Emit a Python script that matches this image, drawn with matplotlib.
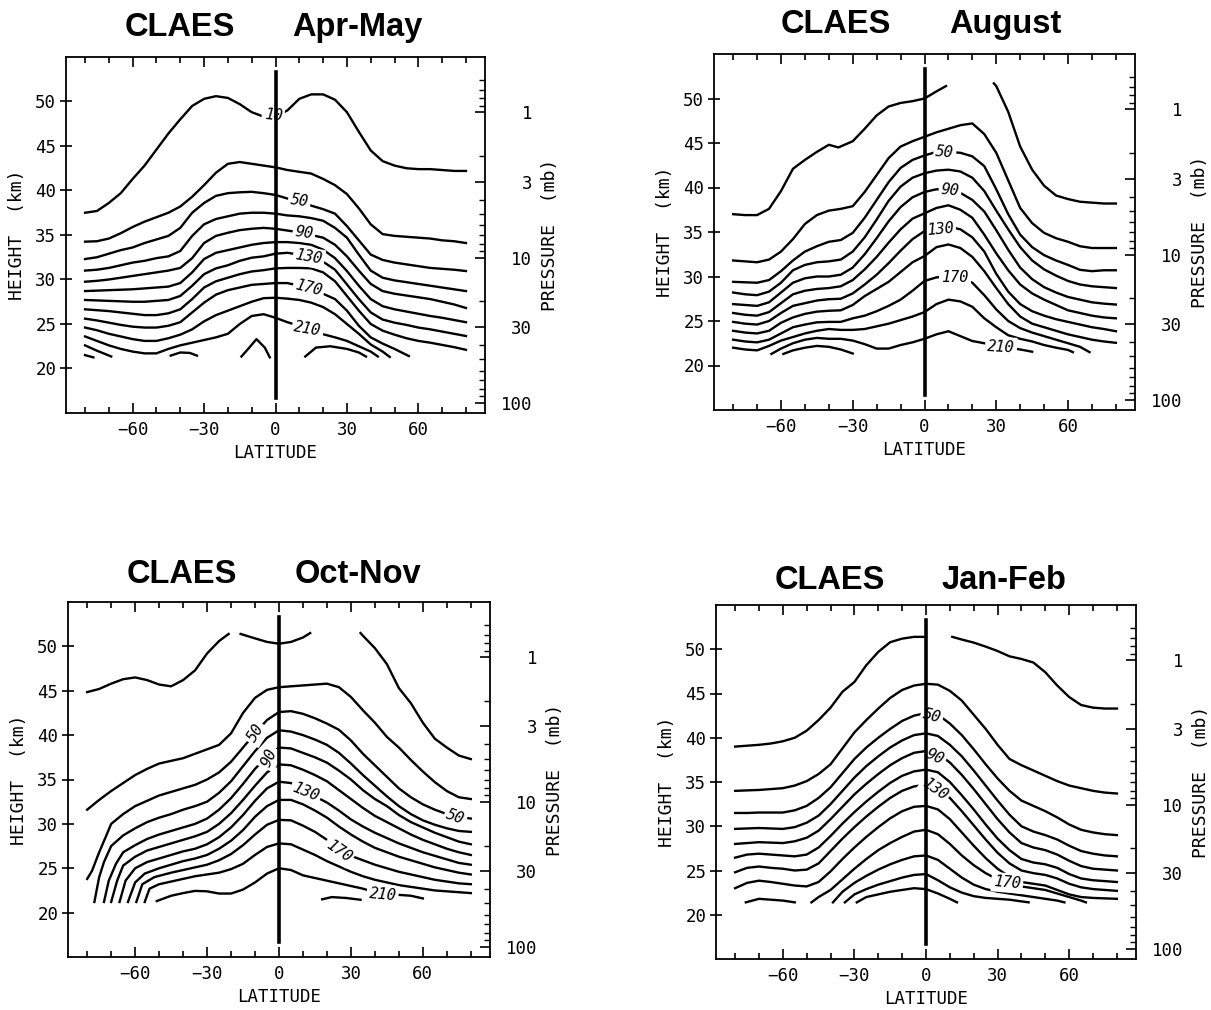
import numpy as np
import matplotlib
matplotlib.use("Agg")
import matplotlib.pyplot as plt

plt.rcParams['font.family'] = ['DejaVu Sans Mono']

# CLAES N2O cross sections (ppbv), contour heights
# each level -> list of segments, each segment a list of (latitude, height km)

apr_may = {
    10: [[(-80, 37.5), (-75, 37.7), (-70, 38.6), (-65, 39.7), (-60, 41.3), (-55, 42.8), (-50, 44.6),
          (-45, 46.4), (-40, 48.0), (-35, 49.5), (-30, 50.3), (-25, 50.6), (-20, 50.4), (-15, 49.7),
          (-10, 48.8), (-5, 48.3), (0, 48.3), (5, 49.0), (10, 50.3), (15, 50.8), (20, 50.8), (25, 50.2),
          (30, 48.8), (35, 46.6), (40, 44.5), (45, 43.3), (50, 42.8), (55, 42.5), (60, 42.4), (65, 42.4),
          (70, 42.3), (75, 42.2), (80, 42.2)]],
    30: [[(-80, 34.25), (-75, 34.3), (-70, 34.6), (-65, 35.2), (-60, 35.9), (-55, 36.5), (-50, 37.0),
          (-45, 37.5), (-40, 38.2), (-35, 39.3), (-30, 40.6), (-25, 42.0), (-20, 43.0), (-15, 43.2),
          (-10, 43.0), (-5, 42.8), (0, 42.6), (5, 42.3), (10, 42.1), (15, 41.9), (20, 41.3), (25, 40.6),
          (30, 39.6), (35, 38.0), (40, 36.2), (45, 35.1), (50, 34.9), (55, 34.8), (60, 34.7), (65, 34.6),
          (70, 34.4), (75, 34.3), (80, 34.1)]],
    50: [[(-80, 32.3), (-75, 32.5), (-70, 32.9), (-65, 33.3), (-60, 33.6), (-55, 34.1), (-50, 34.5),
          (-45, 34.9), (-40, 35.8), (-35, 37.5), (-30, 38.6), (-25, 39.4), (-20, 39.7), (-15, 39.8),
          (-10, 39.85), (-5, 39.7), (0, 39.5), (5, 39.1), (10, 38.8), (15, 38.3), (20, 37.9), (25, 37.4),
          (30, 36.0), (35, 34.4), (40, 32.8), (45, 32.2), (50, 31.9), (55, 31.7), (60, 31.5), (65, 31.3),
          (70, 31.2), (75, 31.1), (80, 30.95)]],
    70: [[(-80, 31.0), (-75, 31.1), (-70, 31.3), (-65, 31.6), (-60, 31.9), (-55, 32.1), (-50, 32.4),
          (-45, 32.6), (-40, 33.2), (-35, 34.9), (-30, 36.2), (-25, 36.8), (-20, 37.1), (-15, 37.4),
          (-10, 37.5), (-5, 37.5), (0, 37.4), (5, 37.2), (10, 37.1), (15, 36.9), (20, 36.6), (25, 35.8),
          (30, 34.7), (35, 32.8), (40, 31.0), (45, 30.2), (50, 29.9), (55, 29.7), (60, 29.5), (65, 29.3),
          (70, 29.1), (75, 28.9), (80, 28.7)]],
    90: [[(-80, 29.75), (-75, 29.85), (-70, 30.0), (-65, 30.2), (-60, 30.4), (-55, 30.6), (-50, 30.8),
          (-45, 31.0), (-40, 31.3), (-35, 32.4), (-30, 34.1), (-25, 34.9), (-20, 35.25), (-15, 35.55),
          (-10, 35.7), (-5, 35.8), (0, 35.7), (5, 35.5), (10, 35.3), (15, 35.0), (20, 34.7), (25, 33.9),
          (30, 32.6), (35, 31.0), (40, 29.5), (45, 28.7), (50, 28.4), (55, 28.2), (60, 28.0), (65, 27.8),
          (70, 27.5), (75, 27.2), (80, 26.8)]],
    110: [[(-80, 28.7), (-75, 28.75), (-70, 28.8), (-65, 28.85), (-60, 28.9), (-55, 29.0), (-50, 29.1),
           (-45, 29.2), (-40, 29.6), (-35, 30.8), (-30, 32.3), (-25, 33.0), (-20, 33.3), (-15, 33.6),
           (-10, 33.9), (-5, 34.1), (0, 34.2), (5, 34.2), (10, 34.1), (15, 33.9), (20, 33.35), (25, 32.4),
           (30, 30.95), (35, 29.3), (40, 27.8), (45, 27.0), (50, 26.65), (55, 26.4), (60, 26.15),
           (65, 25.9), (70, 25.7), (75, 25.45), (80, 25.2)]],
    130: [[(-80, 27.7), (-75, 27.65), (-70, 27.6), (-65, 27.55), (-60, 27.5), (-55, 27.5), (-50, 27.6),
           (-45, 27.7), (-40, 28.15), (-35, 29.3), (-30, 30.6), (-25, 31.25), (-20, 31.6), (-15, 32.1),
           (-10, 32.45), (-5, 32.6), (0, 32.9), (5, 33.0), (10, 32.8), (15, 32.4), (20, 32.0), (25, 31.1),
           (30, 29.45), (35, 27.8), (40, 26.3), (45, 25.5), (50, 25.15), (55, 24.9), (60, 24.6),
           (65, 24.4), (70, 24.15), (75, 23.9), (80, 23.65)]],
    150: [[(-80, 26.65), (-75, 26.55), (-70, 26.45), (-65, 26.3), (-60, 26.15), (-55, 26.0), (-50, 26.0),
           (-45, 26.2), (-40, 26.65), (-35, 27.8), (-30, 29.1), (-25, 29.8), (-20, 30.2), (-15, 30.6),
           (-10, 30.9), (-5, 31.05), (0, 31.25), (5, 31.3), (10, 31.3), (15, 31.25), (20, 30.8), (25, 29.8),
           (30, 28.15), (35, 26.5), (40, 25.0), (45, 24.25), (50, 23.8), (55, 23.4), (60, 23.1),
           (65, 22.9), (70, 22.65), (75, 22.4), (80, 22.1)]],
    170: [[(-80, 25.6), (-75, 25.4), (-70, 25.15), (-65, 24.9), (-60, 24.7), (-55, 24.6), (-50, 24.6),
           (-45, 24.8), (-40, 25.2), (-35, 26.3), (-30, 27.4), (-25, 28.3), (-20, 28.8), (-15, 29.1),
           (-10, 29.4), (-5, 29.5), (0, 29.6), (5, 29.6), (10, 29.3), (15, 28.9), (20, 28.4), (25, 27.8),
           (30, 26.5), (35, 24.8), (40, 23.5), (45, 22.8), (50, 22.2), (56, 21.4)]],
    190: [[(-80, 24.6), (-75, 24.3), (-70, 23.9), (-65, 23.6), (-60, 23.3), (-55, 23.1), (-50, 23.1),
           (-45, 23.4), (-40, 23.8), (-35, 24.4), (-30, 25.3), (-25, 26.0), (-20, 26.5), (-15, 27.0),
           (-10, 27.5), (-5, 27.9), (0, 27.95), (5, 27.85), (10, 27.7), (15, 27.4), (20, 26.9), (25, 26.1),
           (30, 25.0), (35, 23.9), (40, 22.7), (45, 21.9), (48, 21.3)]],
    210: [[(-80, 23.6), (-75, 23.1), (-70, 22.6), (-65, 22.2), (-60, 21.9), (-55, 21.7), (-50, 21.7),
           (-45, 22.2), (-40, 22.6), (-35, 22.9), (-30, 23.2), (-25, 23.5), (-20, 23.9), (-15, 25.0),
           (-10, 25.9), (-5, 26.1), (0, 25.7), (5, 25.2), (10, 24.8), (15, 24.3), (20, 23.85), (25, 23.5),
           (30, 23.1), (35, 22.5), (40, 21.9), (43, 21.35)]],
    230: [[(-80, 22.6), (-75, 22.0), (-69, 21.35)],
          [(-44, 21.45), (-40, 21.8), (-36, 21.75), (-33, 21.45)],
          [(-14.3, 21.35), (-11, 22.35), (-8, 23.3), (-4.5, 22.35), (-2.4, 21.25)],
          [(12.5, 21.35), (17, 22.35), (23, 22.5), (30, 22.2), (35, 21.8), (38, 21.35)]],
    250: [[(-80, 21.5), (-76.5, 21.25)]],
}
apr_may_labels = [(10, -1, 48.4, -5), (50, 10, 38.8, -8), (90, 12, 35.3, -8),
                  (130, 14, 32.5, -10), (170, 14, 29.1, -14), (210, 13.5, 24.4, -10)]

august = {
    10: [[(-80, 37.0), (-75, 36.9), (-70, 36.9), (-65, 37.6), (-60, 39.6), (-55, 42.1), (-50, 43.1),
          (-45, 44.0), (-40, 44.8), (-36, 44.5), (-30, 45.2), (-25, 46.6), (-20, 48.1), (-15, 49.1),
          (-10, 49.5), (-5, 49.7), (0, 50.0), (5, 50.8), (9, 51.4)],
         [(29, 51.7), (30, 51.4), (35, 48.5), (40, 44.6), (45, 42.0), (50, 40.2), (55, 39.1),
          (60, 38.7), (65, 38.4), (70, 38.3), (75, 38.2), (80, 38.2)]],
    30: [[(-80, 31.8), (-75, 31.7), (-70, 31.6), (-65, 31.9), (-60, 32.8), (-55, 34.2), (-50, 35.9),
          (-45, 36.9), (-40, 37.4), (-35, 37.6), (-30, 37.9), (-25, 39.5), (-20, 41.4), (-15, 43.3),
          (-10, 44.6), (-5, 45.2), (0, 45.7), (5, 46.2), (10, 46.6), (15, 47.0), (20, 47.2), (25, 46.0),
          (30, 43.9), (35, 40.8), (40, 37.7), (45, 36.0), (50, 34.9), (55, 34.3), (60, 33.9), (65, 33.4),
          (70, 33.2), (75, 33.2), (80, 33.2)]],
    50: [[(-80, 29.4), (-75, 29.35), (-70, 29.3), (-65, 29.6), (-60, 30.6), (-55, 31.8), (-50, 32.8),
          (-45, 33.4), (-40, 33.9), (-35, 34.1), (-30, 34.9), (-25, 36.6), (-20, 38.6), (-15, 40.6),
          (-10, 42.2), (-5, 43.1), (0, 43.6), (5, 44.0), (10, 44.0), (15, 43.9), (20, 43.5), (25, 42.4),
          (30, 39.8), (35, 37.0), (40, 34.7), (45, 33.3), (50, 32.4), (55, 31.8), (60, 31.3), (65, 30.75),
          (70, 30.6), (75, 30.7), (80, 30.7)]],
    70: [[(-80, 28.2), (-75, 28.0), (-70, 27.9), (-65, 28.3), (-60, 29.3), (-55, 30.7), (-50, 31.3),
          (-45, 31.6), (-40, 31.7), (-35, 31.9), (-30, 32.8), (-25, 34.4), (-20, 36.4), (-15, 38.5),
          (-10, 40.1), (-5, 41.1), (0, 41.6), (5, 41.9), (10, 42.0), (15, 41.8), (20, 41.1), (25, 39.6),
          (30, 37.4), (35, 35.3), (40, 33.3), (45, 31.8), (50, 30.8), (55, 30.1), (60, 29.5), (65, 29.1),
          (70, 28.9), (75, 28.8), (80, 28.7)]],
    90: [[(-80, 26.9), (-75, 26.8), (-70, 26.7), (-65, 27.1), (-60, 28.2), (-55, 29.3), (-50, 29.8),
          (-45, 30.0), (-40, 30.0), (-35, 30.2), (-30, 31.0), (-25, 32.5), (-20, 34.3), (-15, 36.2),
          (-10, 37.8), (-5, 38.9), (0, 39.5), (5, 39.8), (10, 39.7), (15, 39.4), (20, 38.6), (25, 37.3),
          (30, 35.2), (35, 33.0), (40, 31.0), (45, 29.7), (50, 28.8), (55, 28.2), (60, 27.7), (65, 27.4),
          (70, 27.1), (75, 26.95), (80, 26.85)]],
    110: [[(-80, 25.9), (-75, 25.7), (-70, 25.6), (-65, 26.0), (-60, 27.0), (-55, 28.0), (-50, 28.4),
           (-45, 28.6), (-40, 28.7), (-35, 28.9), (-30, 29.6), (-25, 30.8), (-20, 32.2), (-15, 33.8),
           (-10, 35.3), (-5, 36.5), (0, 37.1), (5, 37.7), (10, 38.0), (15, 37.5), (20, 36.6), (25, 34.7),
           (30, 32.6), (35, 30.7), (40, 29.1), (45, 28.1), (50, 27.4), (55, 26.8), (60, 26.2), (65, 25.9),
           (70, 25.6), (75, 25.4), (80, 25.3)]],
    130: [[(-80, 24.9), (-75, 24.7), (-70, 24.6), (-65, 25.0), (-60, 25.9), (-55, 26.7), (-50, 27.0),
           (-45, 27.3), (-40, 27.45), (-35, 27.5), (-30, 28.1), (-25, 29.1), (-20, 30.2), (-15, 31.5),
           (-10, 32.9), (-5, 34.2), (0, 35.1), (5, 35.4), (10, 35.6), (15, 35.3), (20, 34.4), (25, 32.8),
           (30, 30.3), (35, 28.3), (40, 26.9), (45, 26.1), (50, 25.6), (55, 25.2), (60, 24.9), (65, 24.6),
           (70, 24.3), (75, 24.1), (80, 23.85)]],
    150: [[(-80, 23.9), (-75, 23.7), (-70, 23.6), (-65, 23.9), (-60, 24.8), (-55, 25.4), (-50, 25.8),
           (-45, 26.05), (-40, 26.15), (-35, 26.2), (-30, 26.8), (-25, 27.8), (-20, 28.6), (-15, 29.4),
           (-10, 30.5), (-5, 31.6), (0, 32.3), (5, 33.3), (10, 33.6), (15, 33.2), (20, 32.2), (25, 30.6),
           (30, 28.7), (35, 26.9), (40, 25.5), (45, 24.7), (50, 24.3), (55, 23.9), (60, 23.5), (65, 23.2),
           (70, 22.9), (75, 22.7), (80, 22.55)]],
    170: [[(-80, 22.9), (-75, 22.7), (-70, 22.6), (-65, 22.9), (-60, 23.6), (-55, 24.3), (-50, 24.6),
           (-45, 24.85), (-40, 24.9), (-35, 24.9), (-30, 25.3), (-25, 25.6), (-20, 26.1), (-15, 26.7),
           (-10, 27.4), (-5, 28.4), (0, 29.5), (5, 29.9), (10, 30.0), (15, 29.8), (20, 29.3), (25, 27.9),
           (30, 26.3), (35, 25.0), (40, 24.2), (45, 23.7), (50, 23.3), (55, 22.9), (60, 22.5), (65, 22.1),
           (69, 21.5)]],
    190: [[(-80, 22.0), (-75, 21.8), (-70, 21.7), (-65, 22.2), (-60, 22.8), (-55, 23.2), (-50, 23.6),
           (-45, 23.9), (-40, 24.1), (-35, 24.0), (-30, 24.0), (-25, 24.1), (-20, 24.4), (-15, 24.7),
           (-10, 25.1), (-5, 25.5), (0, 26.0), (5, 26.9), (10, 27.4), (15, 27.2), (20, 26.6), (25, 25.3),
           (30, 24.3), (35, 23.4), (40, 23.0), (45, 22.7), (50, 22.3), (55, 22.0), (60, 21.75), (62, 21.5)]],
    210: [[(-64, 21.3), (-60, 21.9), (-55, 22.5), (-50, 22.9), (-45, 23.1), (-40, 23.0), (-35, 23.0),
           (-30, 22.8), (-25, 22.4), (-20, 21.9), (-15, 21.9), (-10, 22.3), (-5, 22.6), (0, 23.0),
           (5, 23.5), (10, 23.85), (15, 23.3), (20, 22.75), (25, 22.5), (30, 22.2), (35, 22.0),
           (40, 21.8), (45, 21.55)]],
    230: [[(-59, 21.3), (-55, 21.7), (-50, 22.0), (-45, 22.2), (-40, 22.1), (-35, 21.8), (-30, 21.35)]],
}
august_labels = [(50, 8.5, 43.9, -5), (90, 10.7, 39.7, -5), (130, 6.5, 35.3, 5),
                 (170, 12.6, 29.9, 0), (210, 32, 22.1, -3)]

oct_nov = {
    10: [[(-80, 44.85), (-75, 45.2), (-70, 45.8), (-65, 46.3), (-60, 46.5), (-55, 46.2), (-50, 45.7),
          (-45, 45.5), (-40, 46.2), (-35, 47.3), (-30, 49.2), (-25, 50.6), (-21, 51.4)],
         [(-16, 51.4), (-10, 50.9), (-5, 50.5), (0, 50.3), (5, 50.5), (10, 51.0), (13, 51.5)],
         [(34, 51.5), (35, 51.2), (40, 49.8), (45, 48.0), (50, 45.3), (55, 43.6), (60, 41.4),
          (65, 39.6), (70, 38.6), (75, 37.7), (80, 37.3)]],
    30: [[(-80, 31.6), (-75, 32.7), (-70, 33.7), (-65, 34.6), (-60, 35.5), (-55, 36.2), (-50, 36.8),
          (-45, 37.1), (-40, 37.4), (-35, 37.9), (-30, 38.4), (-25, 38.9), (-20, 40.2), (-15, 42.5),
          (-10, 44.2), (-5, 45.1), (0, 45.4), (5, 45.5), (10, 45.6), (15, 45.7), (20, 45.8), (25, 45.4),
          (30, 44.3), (35, 42.8), (40, 41.4), (45, 39.8), (50, 38.6), (55, 37.2), (60, 35.9), (65, 34.7),
          (70, 33.7), (75, 33.0), (80, 32.8)]],
    50: [[(-80, 23.8), (-78, 24.7), (-75, 26.8), (-72, 28.7), (-70, 30.0), (-65, 31.1), (-60, 32.0),
          (-55, 32.6), (-50, 33.2), (-45, 33.6), (-40, 34.0), (-35, 34.4), (-30, 35.0), (-25, 35.8),
          (-20, 37.0), (-15, 38.6), (-10, 40.2), (-5, 41.7), (0, 42.6), (5, 42.7), (10, 42.4), (15, 41.9),
          (20, 41.3), (25, 40.6), (30, 39.4), (35, 37.9), (40, 36.6), (45, 35.3), (50, 34.0), (55, 33.0),
          (60, 32.2), (65, 31.6), (70, 31.1), (75, 30.8), (80, 30.6)]],
    70: [[(-77, 21.2), (-75, 24.0), (-73, 25.7), (-70, 27.5), (-65, 28.7), (-60, 29.5), (-55, 30.2),
          (-50, 30.7), (-45, 31.1), (-40, 31.6), (-35, 32.0), (-30, 32.5), (-25, 33.5), (-20, 34.8),
          (-15, 36.5), (-10, 38.2), (-5, 39.7), (0, 40.55), (5, 40.4), (10, 40.0), (15, 39.5), (20, 38.9),
          (25, 38.0), (30, 36.8), (35, 35.5), (40, 34.3), (45, 33.1), (50, 32.0), (55, 31.1), (60, 30.4),
          (65, 29.9), (70, 29.5), (75, 29.2), (80, 29.1)]],
    90: [[(-73, 21.2), (-71, 23.6), (-68, 25.5), (-65, 26.8), (-60, 27.6), (-55, 28.3), (-50, 28.8),
          (-45, 29.2), (-40, 29.6), (-35, 30.0), (-30, 30.6), (-25, 31.6), (-20, 32.9), (-15, 34.5),
          (-10, 36.2), (-5, 37.6), (0, 38.6), (5, 38.5), (10, 38.0), (15, 37.5), (20, 36.9), (25, 36.0),
          (30, 35.0), (35, 33.8), (40, 32.8), (45, 32.0), (50, 31.0), (55, 30.2), (60, 29.6), (65, 29.0),
          (70, 28.5), (75, 28.0), (80, 27.7)]],
    110: [[(-70, 21.2), (-67.5, 23.6), (-65, 25.3), (-60, 26.3), (-55, 27.0), (-50, 27.4), (-45, 27.8),
           (-40, 28.2), (-35, 28.6), (-30, 29.1), (-25, 30.0), (-20, 31.2), (-15, 32.7), (-10, 34.3),
           (-5, 35.8), (0, 36.7), (5, 36.6), (10, 36.1), (15, 35.5), (20, 34.8), (25, 33.8), (30, 32.8),
           (35, 31.8), (40, 30.9), (45, 30.2), (50, 29.5), (55, 28.8), (60, 28.2), (65, 27.7), (70, 27.2),
           (75, 26.8), (80, 26.5)]],
    130: [[(-66.5, 21.2), (-64, 23.6), (-60, 25.0), (-55, 25.7), (-50, 26.1), (-45, 26.5), (-40, 26.9),
           (-35, 27.2), (-30, 27.7), (-25, 28.5), (-20, 29.6), (-15, 31.0), (-10, 32.6), (-5, 34.0),
           (0, 34.75), (5, 34.6), (10, 33.9), (15, 33.1), (20, 32.4), (25, 31.5), (30, 30.5), (35, 29.7),
           (40, 29.0), (45, 28.4), (50, 27.8), (55, 27.3), (60, 26.8), (65, 26.4), (70, 26.0), (75, 25.6),
           (80, 25.4)]],
    150: [[(-63, 21.2), (-60, 23.4), (-56, 24.4), (-50, 25.0), (-45, 25.4), (-40, 25.8), (-35, 26.1),
           (-30, 26.5), (-25, 27.2), (-20, 28.1), (-15, 29.3), (-10, 30.8), (-5, 32.0), (0, 32.7),
           (5, 32.7), (10, 32.2), (15, 31.5), (20, 30.7), (25, 29.7), (30, 28.8), (35, 28.0), (40, 27.3),
           (45, 26.8), (50, 26.3), (55, 25.9), (60, 25.5), (65, 25.1), (70, 24.8), (75, 24.5), (80, 24.3)]],
    170: [[(-59.5, 21.2), (-57, 23.2), (-52, 24.0), (-45, 24.5), (-40, 24.8), (-35, 25.1), (-30, 25.4),
           (-25, 25.9), (-20, 26.6), (-15, 27.6), (-10, 28.8), (-5, 29.9), (0, 30.45), (5, 30.4),
           (10, 29.8), (15, 29.1), (20, 28.2), (25, 27.0), (30, 26.4), (35, 25.9), (40, 25.4), (45, 25.0),
           (50, 24.6), (55, 24.3), (60, 24.0), (65, 23.7), (70, 23.5), (75, 23.3), (80, 23.2)]],
    190: [[(-56, 21.2), (-54, 22.7), (-50, 23.2), (-45, 23.5), (-40, 23.8), (-35, 24.1), (-30, 24.3),
           (-25, 24.5), (-20, 24.9), (-15, 25.5), (-10, 26.5), (-5, 27.4), (0, 27.8), (5, 27.7),
           (10, 27.1), (15, 26.5), (20, 25.8), (25, 25.2), (30, 24.6), (35, 24.1), (40, 23.7), (45, 23.4),
           (50, 23.1), (55, 22.9), (60, 22.7), (65, 22.5), (70, 22.4), (75, 22.3), (80, 22.2)]],
    210: [[(-51, 21.3), (-45, 21.9), (-40, 22.2), (-35, 22.45), (-30, 22.4), (-25, 22.15), (-20, 22.15),
           (-15, 22.6), (-10, 23.4), (-5, 24.4), (0, 25.0), (5, 24.8), (10, 24.2), (15, 23.9), (20, 23.6),
           (25, 23.3), (30, 23.0), (35, 22.7), (40, 22.3), (45, 22.0), (50, 22.0), (55, 21.9), (60, 21.6)]],
    230: [[(18, 21.5), (22, 21.75), (28, 21.65), (34, 21.45)]],
}
oct_nov_labels = [(50, -9.5, 40.2, 58), (90, -4, 37.4, 65), (130, 11.2, 33.6, -22),
                  (170, 24.8, 26.9, -35), (210, 43.2, 22.05, -5), (50, 73.6, 30.8, -20)]

jan_feb = {
    10: [[(-80, 39.0), (-75, 39.1), (-70, 39.2), (-65, 39.35), (-60, 39.6), (-55, 40.0), (-50, 40.8),
          (-45, 42.0), (-40, 43.4), (-35, 45.2), (-30, 46.3), (-25, 48.2), (-20, 49.7), (-15, 50.8),
          (-10, 51.2), (-5, 51.4), (0, 51.4)],
         [(11, 51.4), (15, 51.1), (20, 50.75), (25, 50.3), (30, 49.8), (35, 49.2), (40, 48.9),
          (45, 48.5), (50, 47.4), (55, 45.9), (60, 44.6), (65, 43.7), (70, 43.4), (75, 43.3), (80, 43.3)]],
    30: [[(-80, 34.0), (-75, 34.05), (-70, 34.1), (-65, 34.2), (-60, 34.3), (-55, 34.6), (-50, 35.1),
          (-45, 35.9), (-40, 37.0), (-35, 38.8), (-30, 40.6), (-25, 42.0), (-20, 43.3), (-15, 44.5),
          (-10, 45.4), (-5, 45.9), (0, 46.1), (5, 46.0), (10, 45.3), (15, 44.2), (20, 42.6), (25, 41.0),
          (30, 39.2), (35, 37.6), (40, 36.9), (45, 36.3), (50, 35.7), (55, 35.1), (60, 34.6), (65, 34.3),
          (70, 34.0), (75, 33.8), (80, 33.7)]],
    50: [[(-80, 31.5), (-75, 31.5), (-70, 31.55), (-65, 31.55), (-60, 31.55), (-55, 31.8), (-50, 32.3),
          (-45, 33.2), (-40, 34.4), (-35, 36.0), (-30, 37.6), (-25, 38.9), (-20, 40.0), (-15, 41.0),
          (-10, 41.9), (-5, 42.5), (0, 42.8), (5, 42.6), (10, 41.6), (15, 40.3), (20, 38.7), (25, 37.0),
          (30, 35.4), (35, 34.0), (40, 32.9), (45, 32.3), (50, 31.7), (55, 31.0), (60, 30.2), (65, 29.6),
          (70, 29.3), (75, 29.1), (80, 29.0)]],
    70: [[(-80, 29.7), (-75, 29.75), (-70, 29.8), (-65, 29.75), (-60, 29.7), (-55, 29.9), (-50, 30.4),
          (-45, 31.2), (-40, 32.5), (-35, 34.0), (-30, 35.5), (-25, 36.8), (-20, 37.9), (-15, 38.9),
          (-10, 39.7), (-5, 40.3), (0, 40.5), (5, 40.2), (10, 39.2), (15, 37.9), (20, 36.3), (25, 34.6),
          (30, 32.9), (35, 31.3), (40, 30.0), (45, 29.4), (50, 29.0), (55, 28.5), (60, 27.8), (65, 27.2),
          (70, 26.9), (75, 26.7), (80, 26.6)]],
    90: [[(-80, 28.0), (-75, 28.1), (-70, 28.2), (-65, 28.15), (-60, 28.1), (-55, 28.3), (-50, 28.7),
          (-45, 29.5), (-40, 30.8), (-35, 32.2), (-30, 33.6), (-25, 34.8), (-20, 35.9), (-15, 36.9),
          (-10, 37.7), (-5, 38.3), (0, 38.5), (5, 38.2), (10, 37.2), (15, 35.8), (20, 34.2), (25, 32.5),
          (30, 30.8), (35, 29.3), (40, 28.1), (45, 27.6), (50, 27.3), (55, 26.8), (60, 26.1), (65, 25.5),
          (70, 25.2), (75, 25.1), (80, 25.0)]],
    110: [[(-80, 26.45), (-75, 26.8), (-70, 26.9), (-65, 26.8), (-60, 26.7), (-55, 26.6), (-50, 26.8),
           (-45, 27.6), (-40, 28.9), (-35, 30.3), (-30, 31.6), (-25, 32.8), (-20, 33.9), (-15, 34.9),
           (-10, 35.7), (-5, 36.2), (0, 36.4), (5, 36.1), (10, 35.0), (15, 33.5), (20, 31.9), (25, 30.2),
           (30, 28.6), (35, 27.3), (40, 26.3), (45, 25.9), (50, 25.7), (55, 25.3), (60, 24.6), (65, 24.1),
           (70, 23.9), (75, 23.8), (80, 23.7)]],
    130: [[(-80, 24.8), (-75, 25.3), (-70, 25.45), (-65, 25.3), (-60, 25.2), (-55, 25.0), (-50, 25.1),
           (-45, 25.8), (-40, 27.2), (-35, 28.6), (-30, 29.9), (-25, 31.1), (-20, 32.2), (-15, 33.2),
           (-10, 34.0), (-5, 34.5), (0, 34.7), (5, 34.3), (10, 33.2), (15, 31.7), (20, 30.1), (25, 28.5),
           (30, 27.0), (35, 25.8), (40, 25.0), (45, 24.7), (50, 24.5), (55, 24.1), (60, 23.5), (65, 23.1),
           (70, 22.9), (75, 22.8), (80, 22.7)]],
    150: [[(-80, 23.0), (-75, 23.6), (-70, 23.85), (-65, 23.7), (-60, 23.5), (-55, 23.3), (-50, 23.2),
           (-45, 23.7), (-40, 24.9), (-35, 26.3), (-30, 27.6), (-25, 28.8), (-20, 29.9), (-15, 30.9),
           (-10, 31.7), (-5, 32.2), (0, 32.3), (5, 31.9), (10, 30.8), (15, 29.3), (20, 27.8), (25, 26.4),
           (30, 25.2), (35, 24.3), (40, 23.7), (45, 23.5), (50, 23.3), (55, 22.8), (60, 22.3), (65, 22.0),
           (70, 21.9), (75, 21.85), (80, 21.8)]],
    170: [[(-75.5, 21.4), (-70, 21.8), (-65, 21.7), (-60, 21.6), (-55, 21.4)],
          [(-48, 21.4), (-45, 22.0), (-40, 22.8), (-35, 24.0), (-30, 25.2), (-25, 26.3), (-20, 27.3),
           (-15, 28.1), (-10, 28.8), (-5, 29.4), (0, 29.6), (5, 29.1), (10, 28.0), (15, 26.7), (20, 25.6),
           (25, 24.7), (30, 24.0), (35, 23.6), (40, 23.2), (45, 23.0), (50, 22.8), (55, 22.4), (60, 22.0),
           (65, 21.6), (67, 21.4)]],
    190: [[(-39, 21.4), (-35, 22.6), (-30, 23.6), (-25, 24.4), (-20, 25.1), (-15, 25.7), (-10, 26.2),
           (-5, 26.6), (0, 26.7), (5, 26.2), (10, 25.2), (15, 24.2), (20, 23.4), (25, 22.9), (30, 22.6),
           (35, 22.4), (40, 22.2), (45, 22.0), (50, 21.8), (55, 21.6), (58, 21.4)]],
    210: [[(-34, 21.4), (-30, 22.3), (-25, 22.9), (-20, 23.4), (-15, 23.8), (-10, 24.2), (-5, 24.5),
           (0, 24.6), (5, 23.9), (10, 23.1), (15, 22.5), (20, 22.1), (25, 21.9), (30, 21.8), (35, 21.7),
           (43, 21.4)]],
    230: [[(-29, 21.4), (-25, 22.0), (-20, 22.3), (-15, 22.6), (-10, 22.8), (-5, 23.0), (0, 22.9),
           (5, 22.4), (10, 21.8), (13, 21.4)]],
}
jan_feb_labels = [(50, 2.5, 42.5, -15), (90, 3.8, 37.9, -25), (130, 3.8, 34.2, -35),
                  (170, 34, 23.6, -5)]

seasons = ["Apr-May", "August", "Oct-Nov", "Jan-Feb"]
pressure_major = [1, 3, 10, 30, 100]
pressure_minor = [0.6, 0.7, 0.8, 0.9, 2, 4, 5, 6, 7, 8, 9, 20, 40, 50, 60, 70, 80, 90]


def p_to_z(p):
    # log-pressure height used on the right axis
    return 16.14 + 7.085 * np.log(100.0 / np.asarray(p, dtype=float))


fig = plt.figure(figsize=(12.11, 10.10), dpi=100)

# axes boxes in figure pixels (left, top, right, bottom)
boxes = [(66, 57, 485, 413), (714, 54, 1135, 410), (68, 602, 490, 957), (716, 605, 1136, 959)]
title_pos = [(0.141, 0.539, 1.060), (0.159, 0.558, 1.058), (0.140, 0.536, 1.054), (0.140, 0.538, 1.045)]
panels = [(apr_may, apr_may_labels), (august, august_labels),
          (oct_nov, oct_nov_labels), (jan_feb, jan_feb_labels)]

W, H = 1211, 1010
for (l, t, r, b), (lines, labels), season, (tx1, tx2, ty) in zip(boxes, panels, seasons, title_pos):
    ax = fig.add_axes([l / W, 1 - b / H, (r - l) / W, (b - t) / H])
    ax.set_xlim(-88, 88)
    ax.set_ylim(15, 55)

    for level, segs in lines.items():
        for seg in segs:
            la, zz = zip(*seg)
            ax.plot(la, zz, color='black', lw=1.7, solid_joinstyle='round', zorder=2)

    for level, la, zz, ang in labels:
        ax.text(la, zz, str(level), fontsize=11, style='italic', ha='center', va='center',
                rotation=ang, zorder=3,
                bbox=dict(boxstyle='square,pad=0.15', fc='white', ec='none'))

    # equator marker
    ax.plot([0, 0], [16.7, 53.3], color='black', lw=2.6, zorder=4)

    for s in ax.spines.values():
        s.set_linewidth(1.3)

    ax.set_xticks([-60, -30, 0, 30, 60])
    ax.set_xticks(range(-80, 81, 10), minor=True)
    ax.tick_params(axis='x', which='both', direction='in', top=True, bottom=True, width=1.2)
    ax.tick_params(axis='x', which='major', length=7, pad=6, labelsize=12.5)
    ax.tick_params(axis='x', which='minor', length=4.5)
    ax.set_yticks(range(20, 51, 5))
    ax.tick_params(axis='y', which='major', direction='inout', length=8, width=1.2,
                   labelsize=12.5, pad=3, left=True, right=False)

    ax2 = ax.twinx()
    ax2.set_ylim(15, 55)
    ax2.set_yticks(p_to_z(pressure_major), labels=[str(p) for p in pressure_major])
    ax2.set_yticks(p_to_z(pressure_minor), minor=True)
    ax2.tick_params(axis='y', which='major', direction='in', length=7, width=1.2,
                    labelsize=12.5, pad=34)
    ax2.tick_params(axis='y', which='minor', direction='in', length=4, width=1.0)
    for lab in ax2.get_yticklabels():
        lab.set_horizontalalignment('right')
    for s in ax2.spines.values():
        s.set_visible(False)

    ax.text(0.5, -0.112, "LATITUDE", transform=ax.transAxes, ha='center', va='center', fontsize=12.5)
    ax.text(-0.117, 0.5, "HEIGHT  (km)", transform=ax.transAxes, ha='center', va='center',
            rotation=90, fontsize=13)
    ax.text(1.155, 0.5, "PRESSURE  (mb)", transform=ax.transAxes, ha='center', va='center',
            rotation=90, fontsize=13)

    ax.text(tx1, ty, "CLAES", transform=ax.transAxes, ha='left', va='baseline',
            fontsize=23.5, fontweight='bold', family='Liberation Sans')
    ax.text(tx2, ty, season, transform=ax.transAxes, ha='left', va='baseline',
            fontsize=23.5, fontweight='bold', family='Liberation Sans')

fig.savefig("out.png", dpi=100)
